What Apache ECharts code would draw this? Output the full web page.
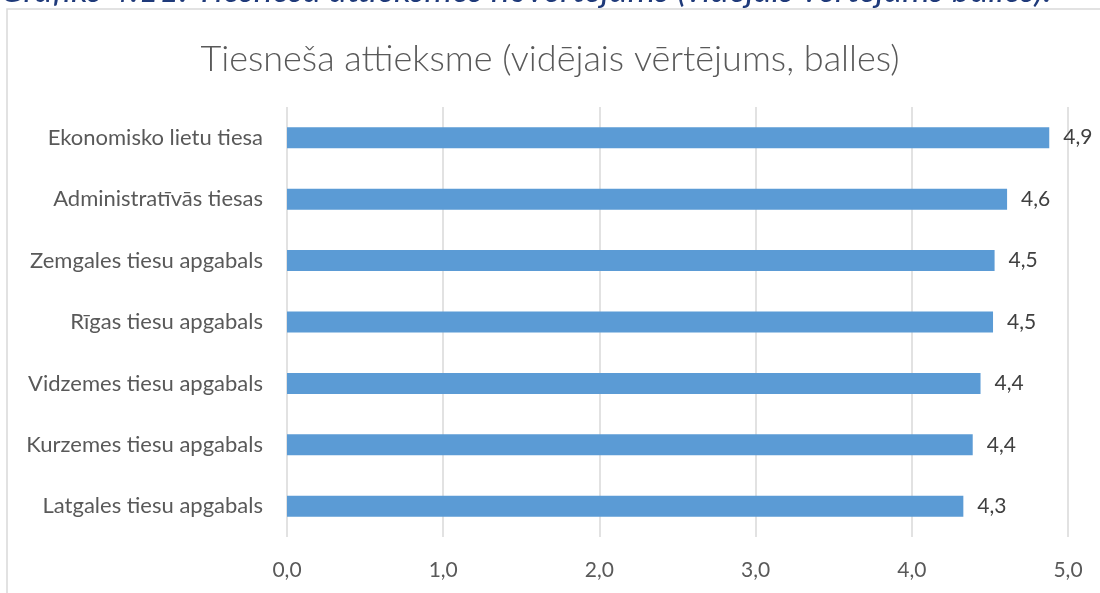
<!DOCTYPE html>
<html>
<head>
<meta charset="utf-8">
<script src="https://cdn.jsdelivr.net/npm/echarts@6/dist/echarts.min.js"></script>
<style>
html,body{margin:0;padding:0;background:#fff;overflow:hidden;}
#main{width:1100px;height:593px;}
</style>
</head>
<body>
<div id="main"></div>
<script>
const pageCaption = 'Grafiks 4.11: Tiesneša attieksmes novērtējums (vidējais vērtējums balles).';
const chartTitle = 'Tiesneša attieksme (vidējais vērtējums, balles)';
const categories = [
  'Latgales tiesu apgabals',
  'Kurzemes tiesu apgabals',
  'Vidzemes tiesu apgabals',
  'Rīgas tiesu apgabals',
  'Zemgales tiesu apgabals',
  'Administratīvās tiesas',
  'Ekonomisko lietu tiesa'
];
const values = [4.33, 4.39, 4.44, 4.52, 4.53, 4.61, 4.88];
const axisTicks = [0, 1, 2, 3, 4, 5];

const fmt = v => Number(v).toFixed(1).replace('.', ',');
const FONT = 'Lato';

const chart = echarts.init(document.getElementById('main'), null, {renderer: 'canvas'});
chart.setOption({
  backgroundColor: '#ffffff',
  animation: false,
  title: {
    text: chartTitle,
    left: 'center',
    top: 36,
    textStyle: {fontFamily: FONT, fontSize: 36, fontWeight: 300, color: '#595959'}
  },
  graphic: [
    {type: 'rect', shape: {x: 7, y: 9, width: 1300, height: 800}, style: {fill: 'none', stroke: '#d9d9d9', lineWidth: 1.5}, silent: true, z: -1},
    {type: 'text', x: 0, y: 8, style: {text: pageCaption, fontFamily: FONT, fontSize: 35, fontStyle: 'italic', fill: '#1f3a7a', verticalAlign: 'bottom'}, silent: true}
  ],
  grid: {left: 287, right: 32, top: 107, bottom: 56},
  xAxis: {
    type: 'value',
    min: axisTicks[0],
    max: axisTicks[axisTicks.length - 1],
    interval: 1,
    axisLine: {show: false},
    axisTick: {show: false},
    splitLine: {show: true, lineStyle: {color: '#d9d9d9', width: 1.5}},
    axisLabel: {formatter: v => fmt(v), fontFamily: FONT, fontSize: 21, color: '#595959', margin: 23}
  },
  yAxis: {
    type: 'category',
    data: categories,
    axisLine: {show: false},
    axisTick: {show: false},
    axisLabel: {fontFamily: FONT, fontSize: 22, color: '#595959', margin: 24}
  },
  series: [{
    type: 'bar',
    data: values,
    barWidth: 21,
    itemStyle: {color: '#5b9bd5'},
    label: {show: true, position: 'right', distance: 14, formatter: p => fmt(p.value), fontFamily: FONT, fontSize: 21, color: '#404040'}
  }]
});
</script>
</body>
</html>
